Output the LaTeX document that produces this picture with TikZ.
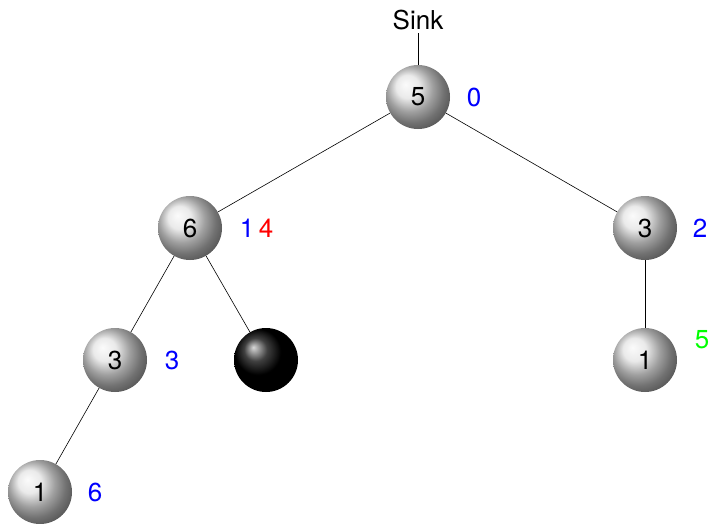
\documentclass[tikz,border=0pt]{standalone}
\usepackage{fontspec}
\setmainfont{TeX Gyre Heros}
\usetikzlibrary{positioning}
\tikzset{
ball/.style={
circle,
minimum size=64pt,
inner sep=0pt,
ball color=gray!22,
font=\fontsize{26}{30}\selectfont
},
deadball/.style={
ball,
ball color=black
},
tag/.style={
font=\fontsize{26}{30}\selectfont
},
edge/.style={
line width=0.6pt
}
}
\begin{document}
\begin{tikzpicture}[x=1pt,y=-1pt]

\useasboundingbox (0,0) rectangle (710,523);

\node[tag] (sink) at (418,20) {Sink};
\node[ball] (r) at (418,97) {5};
\node[ball] (a) at (190,228) {6};
\node[ball] (b) at (645,228) {3};
\node[ball] (c) at (115,360) {3};
\node[deadball] (d) at (266,360) {};
\node[ball] (e) at (645,360) {1};
\node[ball] (f) at (40,492) {1};

\node[tag, text=blue] (lr) at (474,97) {0};
\node[tag, text=blue] (la) at (247,228) {1};
\node[tag, text=red] (la2) at (266,228) {4};
\node[tag, text=blue] (lb) at (700,228) {2};
\node[tag, text=blue] (lc) at (172,360) {3};
\node[tag, text=green] (le) at (702,340) {5};
\node[tag, text=blue] (lf) at (95,492) {6};

\draw[edge] (sink.south) -- (r);
\draw[edge] (r) -- (a);
\draw[edge] (r) -- (b);
\draw[edge] (a) -- (c);
\draw[edge] (a) -- (d);
\draw[edge] (b) -- (e);
\draw[edge] (c) -- (f);

\end{tikzpicture}
\end{document}
